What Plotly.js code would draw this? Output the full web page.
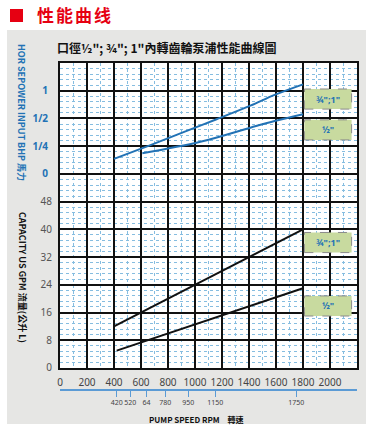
<!DOCTYPE html>
<html><head><meta charset="utf-8">
<script src="https://cdn.plot.ly/plotly-3.0.1.min.js"></script>
<style>
body{margin:0;background:#fff;width:381px;height:441px;position:relative;overflow:hidden;font-family:"Noto Sans CJK SC",sans-serif}
#panel{position:absolute;left:7px;top:30px;width:359px;height:394px;background:#e6e6e4}
#sq{position:absolute;left:10px;top:9px;width:13px;height:13px;background:#e60012}
#hd{position:absolute;left:37px;top:3px;font-size:17px;font-weight:bold;color:#e60012;letter-spacing:2px;line-height:24px;font-family:"Noto Sans CJK SC",sans-serif}
#chart{position:absolute;left:0;top:0;width:381px;height:441px}
</style></head>
<body>
<div id="panel"></div><div id="sq"></div><div id="hd">性能曲线</div>
<div id="chart"></div>
<script>
// ---- data ----
const rpmTicks = [0,200,400,600,800,1000,1200,1400,1600,1800,2000];
const gpmTickVals = [0,8,16,24,32,40,48,56,64,72,80,88];
const gpmTickText = ['0','8','16','24','32','40','48','','','','',''];
const hpTickVals = [0.125,0.25,0.5,1];
const hpTickText = ['0','1/4','1/2','1'];
const speedMarks = [420,520,640,780,950,1150,1750];
const speedMarkText = ['420','520','64','780','950','1150','1750'];

const hpLargeRpm = [400,670,920,1160,1410,1590,1800];
const hpLarge    = [0.182,0.257,0.358,0.490,0.688,0.901,1.173];
const hpSmallRpm = [610,1040,1410,1590,1800];
const hpSmall    = [0.209,0.279,0.397,0.469,0.555];

const gpmLargeRpm = [400,1800];
const gpmLarge    = [12,40];
const gpmSmallRpm = [420,1800];
const gpmSmall    = [5,23];

const labelLarge = '¾";1"';
const labelSmall = '½"';

// ---- chart ----
const BLUE = '#2272b5';
const GRIDMINOR = '#86bde0';
const numFont = 'Noto Sans, DejaVu Sans, sans-serif';
const cjk = '"Noto Sans CJK TC", "Noto Sans", sans-serif';

const traces = [
  {x: hpLargeRpm, y: hpLarge, xaxis:'x', yaxis:'y2', mode:'lines', line:{color:BLUE,width:2,shape:'spline'}, hoverinfo:'skip', showlegend:false},
  {x: hpSmallRpm, y: hpSmall, xaxis:'x', yaxis:'y2', mode:'lines', line:{color:BLUE,width:2,shape:'spline'}, hoverinfo:'skip', showlegend:false},
  {x: gpmLargeRpm, y: gpmLarge, xaxis:'x', yaxis:'y', mode:'lines', line:{color:'#111',width:2}, hoverinfo:'skip', showlegend:false},
  {x: gpmSmallRpm, y: gpmSmall, xaxis:'x', yaxis:'y', mode:'lines', line:{color:'#111',width:2}, hoverinfo:'skip', showlegend:false},
  {x: speedMarks, y: speedMarks.map(()=>0), xaxis:'x2', yaxis:'y', mode:'markers', marker:{opacity:0}, hoverinfo:'skip', showlegend:false}
];

function box(y0,y1){
  return {type:'rect', xref:'x', yref:'y', x0:1810, x1:2160, y0:y0, y1:y1,
    fillcolor:'#c8da9f', line:{color:'#8a8a8a', width:1, dash:'dash'}, layer:'above'};
}
function boxText(y, t){
  return {xref:'x', yref:'y', x:1985, y:y, xanchor:'center', yanchor:'middle', text:t, showarrow:false,
    font:{family:numFont, size:9, color:BLUE, weight:'bold'}};
}
function note(x, y, t, font, angle){
  return {xref:'paper', yref:'paper', x:x, y:y, xanchor:'center', yanchor:'middle',
    text:t, showarrow:false, textangle:angle||0, font:font};
}

const layout = {
  width:381, height:441,
  margin:{l:60, r:24, t:63, b:18},
  paper_bgcolor:'rgba(0,0,0,0)',
  plot_bgcolor:'#ffffff',
  font:{family:numFont, size:10, color:'#444'},
  xaxis:{
    range:[0,2200], domain:[0,1], anchor:'y',
    tickmode:'array', tickvals:rpmTicks, ticktext:rpmTicks.map(String),
    ticks:'', ticklabelstandoff:4, tickangle:0,
    tickfont:{family:numFont, size:10, color:'#444'},
    showgrid:true, gridcolor:'#111', gridwidth:2,
    minor:{tickmode:'linear', tick0:0, dtick:100, showgrid:true, gridcolor:GRIDMINOR, griddash:'dot', gridwidth:1, ticks:''},
    showline:true, mirror:true, linecolor:'#111', linewidth:2, zeroline:false
  },
  xaxis2:{
    range:[0,2200], overlaying:'x', anchor:'free', position:0.0944, side:'bottom',
    tickmode:'array', tickvals:speedMarks, ticktext:speedMarkText, tickangle:0,
    ticks:'outside', ticklen:6, tickwidth:1.2, tickcolor:'#5b9bd5',
    tickfont:{family:numFont, size:7, color:'#444'},
    showline:true, linecolor:'#5b9bd5', linewidth:1.5,
    showgrid:false, zeroline:false
  },
  yaxis:{
    range:[0,88], domain:[0.1528,1], anchor:'x',
    tickmode:'array', tickvals:gpmTickVals, ticktext:gpmTickText,
    ticks:'', ticklabelstandoff:4,
    tickfont:{family:numFont, size:10, color:'#555'},
    showgrid:true, gridcolor:'#111', gridwidth:2,
    minor:{tickmode:'linear', tick0:0, dtick:1.6, showgrid:true, gridcolor:GRIDMINOR, griddash:'dot', gridwidth:1, ticks:''},
    showline:true, mirror:true, linecolor:'#111', linewidth:2, zeroline:false
  },
  yaxis2:{
    type:'log', range:[Math.log10(Math.pow(2,-10)), Math.log10(2)],
    overlaying:'y', anchor:'x', side:'left',
    tickmode:'array', tickvals:hpTickVals, ticktext:hpTickText,
    ticks:'', ticklabelstandoff:11,
    tickfont:{family:numFont, size:10, color:BLUE, weight:'bold'},
    showgrid:false, zeroline:false, showline:false
  },
  shapes:[box(74.7,80.5), box(65.8,71.6), box(33.3,39.1), box(15.0,20.8)],
  annotations:[
    note(0.36, 1.0444, '口徑½"; ¾"; 1"內轉齒輪泵浦性能曲線圖', {family:cjk, size:12, color:'#111', weight:'bold'}),
    note(-0.128, 0.861, 'HOR SEPOWER INPUT BHP 馬力', {family:cjk, size:9, color:BLUE, weight:'bold'}, 90),
    note(-0.128, 0.403, 'CAPACITY US GPM 流量(公升 L)', {family:cjk, size:9, color:'#111', weight:'bold'}, 90),
    note(0.461, 0.011, 'PUMP SPEED RPM　轉速', {family:cjk, size:8, color:'#111', weight:'bold'}),
    boxText(77.6, labelLarge), boxText(68.7, labelSmall),
    boxText(36.2, labelLarge), boxText(17.9, labelSmall)
  ]
};

Plotly.newPlot('chart', traces, layout, {staticPlot:true, displayModeBar:false});
</script>
</body></html>
